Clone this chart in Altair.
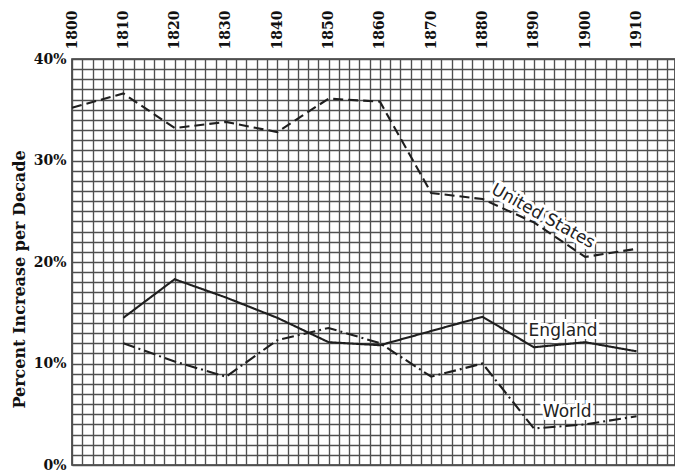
import altair as alt
import pandas as pd

years = [1800, 1810, 1820, 1830, 1840, 1850, 1860, 1870, 1880, 1890, 1900, 1910]
us = [35.2, 36.6, 33.2, 33.8, 32.8, 36.1, 35.8, 26.8, 26.2, 23.9, 20.5, 21.3]
england_years = [1810, 1820, 1830, 1840, 1850, 1860, 1870, 1880, 1890, 1900, 1910]
england = [14.5, 18.3, 16.5, 14.5, 12.1, 11.8, 13.2, 14.6, 11.6, 12.1, 11.2]
world_years = [1810, 1820, 1830, 1840, 1850, 1860, 1870, 1880, 1890, 1900, 1910]
world = [12.0, 10.2, 8.7, 12.3, 13.5, 12.0, 8.7, 10.0, 3.6, 4.0, 4.8]

label_text = ["United States", "England", "World"]
label_year = [1891.8, 1895.7, 1896.5]
label_value = [24.5, 13.2, 5.2]
label_angle = [29, 0, 0]

series_names = ["United States", "England", "World"]

rows = []
for y, v in zip(years, us):
    rows.append({"year": y, "value": v, "series": "United States"})
for y, v in zip(england_years, england):
    rows.append({"year": y, "value": v, "series": "England"})
for y, v in zip(world_years, world):
    rows.append({"year": y, "value": v, "series": "World"})
df = pd.DataFrame(rows)

labels = pd.DataFrame({"text": label_text, "year": label_year,
                       "value": label_value, "angle": label_angle})

x_grid = list(range(1800, 1918, 2))
y_grid = list(range(0, 41, 1))

SERIF = "DejaVu Serif"
INK = "#1e1e1e"
GRID = "#4f4f4f"

x_scale = alt.Scale(domain=[1800, 1917.5], nice=False, zero=False)
y_scale = alt.Scale(domain=[0, 40], nice=False)

x_enc = alt.X("year:Q", scale=x_scale, axis=alt.Axis(
    orient="top", values=x_grid, tickCount=200, title=None,
    labelExpr="datum.value % 10 == 0 ? datum.value : ''",
    labelAngle=270, labelFont=SERIF, labelFontWeight="bold", labelFontSize=14,
    labelColor="#111", labelPadding=10, tickSize=0, ticks=False, domain=False,
    labelOverlap=False, labelFlush=False, labelBound=False,
    grid=True, gridColor=GRID, gridWidth=1.35, gridOpacity=1))

y_enc = alt.Y("value:Q", scale=y_scale, axis=alt.Axis(
    values=y_grid, tickCount=200, title="Percent Increase per Decade",
    labelExpr="datum.value % 10 == 0 ? datum.value + '%' : ''",
    labelFont=SERIF, labelFontWeight="bold", labelFontSize=14, labelColor="#111",
    labelPadding=6, tickSize=0, ticks=False, domain=False,
    labelOverlap=False, labelFlush=False, labelBound=False,
    titleFont=SERIF, titleFontWeight="bold", titleFontSize=16, titleColor="#111",
    titleAngle=270, titleX=-53, titleY=220, titleAlign="center",
    titleBaseline="middle",
    grid=True, gridColor=GRID, gridWidth=1.35, gridOpacity=1))

lines = alt.Chart(df).mark_line(strokeWidth=2.1, color=INK).encode(
    x=x_enc,
    y=y_enc,
    strokeDash=alt.StrokeDash("series:N", scale=alt.Scale(
        domain=series_names, range=[[10, 5], [1, 0], [12, 4, 2, 4]]), legend=None),
    detail="series:N",
)

halo = alt.Chart(labels).mark_text(
    font="DejaVu Sans", fontSize=17, stroke="white", strokeWidth=6,
    fill="white", align="center", baseline="middle").encode(
    x=alt.X("year:Q", scale=x_scale),
    y=alt.Y("value:Q", scale=y_scale),
    text="text:N",
    angle=alt.Angle("angle:Q", scale=None),
)

text = alt.Chart(labels).mark_text(
    font="DejaVu Sans", fontSize=17, color="#222",
    align="center", baseline="middle").encode(
    x=alt.X("year:Q", scale=x_scale),
    y=alt.Y("value:Q", scale=y_scale),
    text="text:N",
    angle=alt.Angle("angle:Q", scale=None),
)

chart = alt.layer(lines, halo, text).properties(
    width=603, height=406,
    autosize=alt.AutoSizeParams(type="none"),
    padding={"left": 64, "top": 51, "right": 0, "bottom": 9},
    background="white",
).configure_view(stroke="#333", strokeWidth=1.6)

chart.save("out.html", embed_options={"renderer": "svg", "actions": False})
